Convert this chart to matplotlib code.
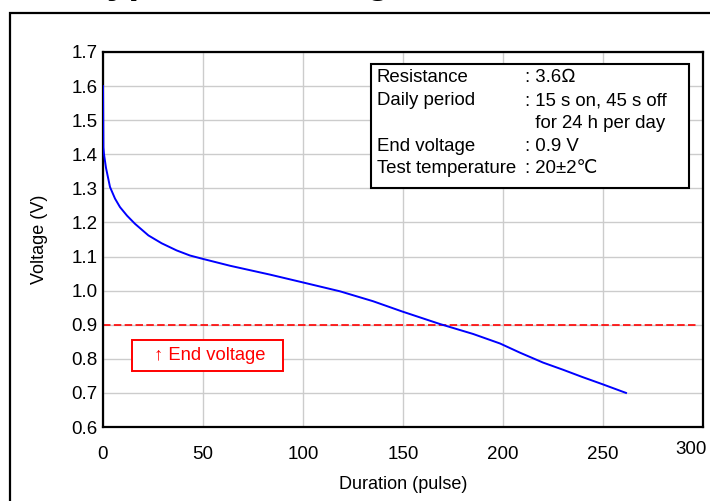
import matplotlib
matplotlib.use("Agg")
import matplotlib.pyplot as plt
from matplotlib.patches import Rectangle
from matplotlib.transforms import offset_copy

plt.rcParams['font.family'] = ['Liberation Sans', 'DejaVu Sans']

# Data
duration = [0, 0.2, 0.5, 1.5, 3.5, 6, 8.5, 12, 16, 22.7, 29.3, 36.8, 43.5, 50, 63.5,
            83.5, 100, 118.5, 135, 149.5, 168.5, 185, 198.5, 208.5, 220, 230,
            239.5, 249.5, 261.5]
voltage = [1.60, 1.42, 1.40, 1.36, 1.304, 1.27, 1.245, 1.22, 1.196, 1.162, 1.139,
           1.118, 1.103, 1.093, 1.073, 1.047, 1.024, 0.998, 0.969, 0.939, 0.902,
           0.873, 0.845, 0.818, 0.789, 0.768, 0.747, 0.726, 0.70]
end_voltage = 0.9
x_ticks = [0, 50, 100, 150, 200, 250, 300]
y_ticks = [0.6, 0.7, 0.8, 0.9, 1.0, 1.1, 1.2, 1.3, 1.4, 1.5, 1.6, 1.7]
info_labels = ["Resistance", "Daily period", "", "End voltage", "Test temperature"]
info_values = [": 3.6\u2126", ": 15 s on, 45 s off", "  for 24 h per day", ": 0.9 V",
               ": 20\u00b12\u2103"]

fig = plt.figure(figsize=(7.10, 5.01), dpi=100)
ax = fig.add_axes([103/710, 1 - 427/501, 600/710, 375/501])

# outer frame
fig.patches.append(Rectangle((10/710, -0.05), 1.1, 1 - 13/501 + 0.05,
                             transform=fig.transFigure, fill=False,
                             edgecolor='black', linewidth=1.6, zorder=0))
# truncated title at very top
fig.text(86/710, 1 + 7/501, "Typical discharge characteristics", fontsize=28,
         fontweight='bold', va='baseline', ha='left', color='black')

ax.plot(duration, voltage, color='#0000ff', linewidth=1.4, zorder=3)
ax.plot([0, 297], [end_voltage, end_voltage], color='#ff0000', linewidth=1.2,
        linestyle=(0, (4.5, 2)), zorder=2)

ax.set_xlim(0, 300)
ax.set_ylim(0.6, 1.7)
ax.set_xticks(x_ticks)
ax.set_yticks(y_ticks)
ax.set_xticklabels([str(t) for t in x_ticks])
ax.set_yticklabels([f"{t:.1f}" for t in y_ticks])
ax.tick_params(length=0, labelsize=13.5, pad=4)
ax.tick_params(axis='x', pad=14)
ax.grid(True, color='#cccccc', linewidth=1.0)
ax.set_axisbelow(True)
for s in ax.spines.values():
    s.set_linewidth(1.6)
    s.set_color('black')

# raise the "300" label slightly as in the reference
lbl = ax.get_xticklabels()[-1]
lbl.set_transform(offset_copy(lbl.get_transform(), fig=fig, x=-12, y=5, units='dots'))

ax.set_xlabel("Duration (pulse)", fontsize=13, labelpad=9)
ax.set_ylabel("Voltage (V)", fontsize=13, labelpad=17)

# info box
ax.add_patch(Rectangle((134, 1.30), 159, 1.666 - 1.30, facecolor='white',
                       edgecolor='black', linewidth=1.5, zorder=5))
line_y = [1.624, 1.557, 1.490, 1.424, 1.357]
for lab, val, yy in zip(info_labels, info_values, line_y):
    if lab:
        ax.text(137, yy, lab, fontsize=13.4, va='center', ha='left', zorder=6)
    ax.text(211, yy, val, fontsize=13.4, va='center', ha='left', zorder=6)

# end voltage label
ax.add_patch(Rectangle((14.5, 0.765), 75.5, 0.091, facecolor='white',
                       edgecolor='#ff0000', linewidth=1.4, zorder=5))
ax.text(53.5, 0.81, "\u2191 End voltage", fontsize=13.2, color='#ff0000', ha='center',
        va='center', zorder=6)

fig.savefig("out.png", dpi=100)
